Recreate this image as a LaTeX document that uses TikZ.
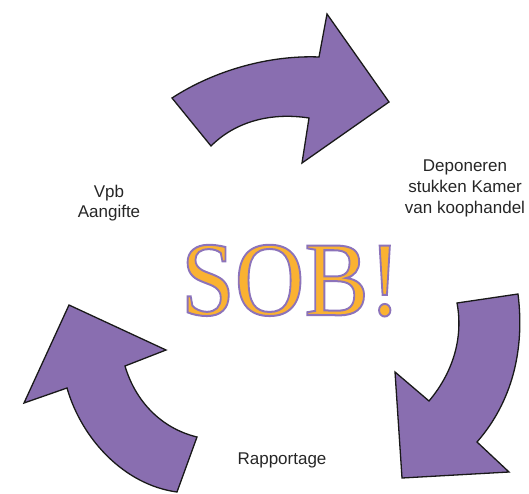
\documentclass[tikz,border=0pt]{standalone}
\usepackage{fontspec}
\setmainfont{Liberation Sans}
\newfontfamily\sobfont{Liberation Serif}
\usepackage{xcolor}
\usepackage{tikz}
\definecolor{sobpurple}{RGB}{137,110,176}
\definecolor{soborange}{RGB}{250,178,50}
\definecolor{sobline}{RGB}{140,115,185}
% outlined text: fill in the current colour, stroke in purple
\newcommand{\outlinetext}[1]{\special{pdf:literal direct q 2 Tr 2 w 0.55 0.45 0.73 RG}#1\special{pdf:literal direct Q}}
\tikzset{
  bigarrow/.style={fill=sobpurple, draw=black!90, line width=1.3pt, line join=miter},
  phase/.style={font=\fontsize{17}{20.5}\selectfont, align=center, inner sep=0pt, text=black!85}
}

\begin{document}
\begin{tikzpicture}[x=1pt, y=-1pt]
        \useasboundingbox (0, 0) rectangle (529, 494);
        % Arrows
        \draw [bigarrow] (172, 98) .. controls (215, 70) and (270, 55) .. (319, 57)
            -- (327, 14) -- (389, 102) -- (302, 163) -- (309, 118)
            .. controls (270, 112) and (235, 122) .. (211, 146) -- cycle;
        \draw [bigarrow] (518, 294) -- (457, 303)
            .. controls (463, 335) and (455, 370) .. (429, 401)
            -- (395, 372) -- (402, 478) -- (509, 472) -- (477, 442)
            .. controls (512, 402) and (525, 350) .. (518, 294) -- cycle;
        \draw [bigarrow] (177, 492) -- (197, 437)
            .. controls (160, 428) and (135, 400) .. (125, 366)
            -- (166, 350) -- (69, 305) -- (24, 403) -- (67, 388)
            .. controls (82, 440) and (125, 485) .. (177, 492) -- cycle;
        % Labels
        \node (vpb) [phase, anchor=base] at (109, 218) {Vpb\\Aangifte};
        \node (depon) [phase, anchor=base] at (465, 213) {Deponeren\\stukken Kamer\\van koophandel};
        \node (rapp) [phase, anchor=base] at (282, 464) {Rapportage};
        % Title
        \node (sob) [anchor=base, inner sep=0pt, xscale=0.91, text=soborange,
            font=\sobfont\fontsize{106}{106}\selectfont] at (291, 315)
            {\outlinetext{SOB!}};
    \end{tikzpicture}
\end{document}
